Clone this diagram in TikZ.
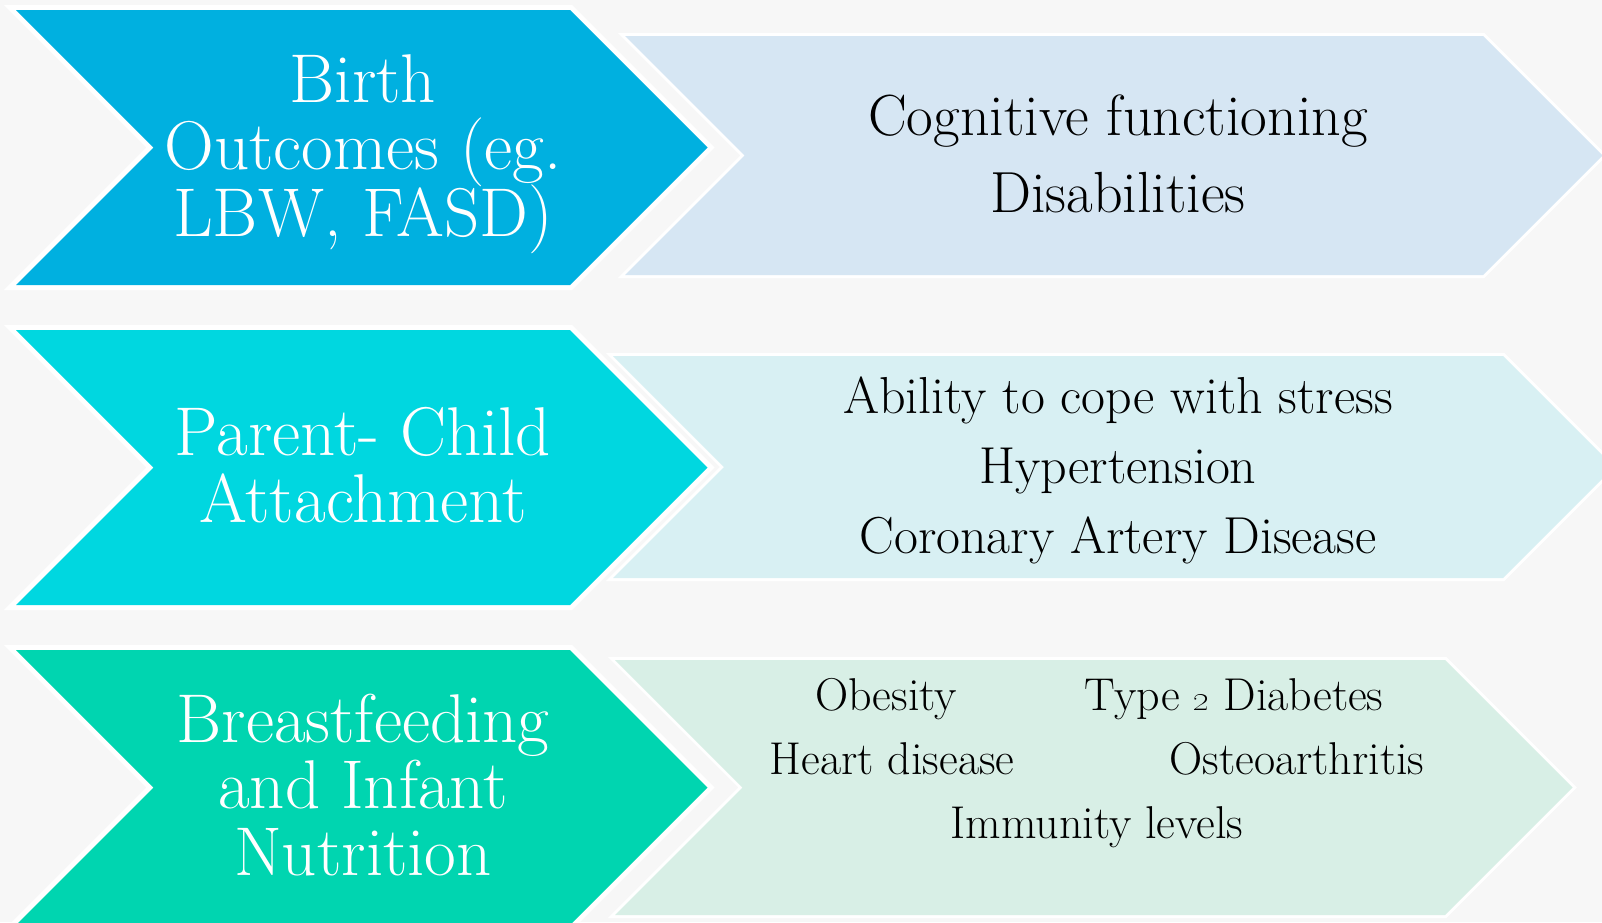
\documentclass[tikz,border=0pt]{standalone}
\usepackage{xcolor}
\usepackage{tikz}
\usetikzlibrary{positioning,calc}

\definecolor{bgpaper}{RGB}{247,247,247}
\definecolor{birth_dark}{RGB}{0,176,224}
\definecolor{attach_dark}{RGB}{0,215,224}
\definecolor{feed_dark}{RGB}{0,213,176}
\definecolor{birth_light}{RGB}{214,230,243}
\definecolor{attach_light}{RGB}{216,240,243}
\definecolor{feed_light}{RGB}{216,239,230}

\tikzset{
    cause/.style={preaction={draw=white, line width=10pt, line join=miter}, fill=#1},
    effect/.style={preaction={draw=white, line width=6pt, line join=miter}, fill=#1},
    causetext/.style={text=white, anchor=base, inner sep=0pt, font=\fontsize{69}{69}\selectfont},
    effecttext/.style={text=black, anchor=base, inner sep=0pt, font=\fontsize{#1}{#1}\selectfont},
}

\begin{document}
\begin{tikzpicture}[x=1pt, y=-1pt]
    %Background
    \fill[bgpaper] (0,0) rectangle (1602,922);
    \useasboundingbox (0,0) rectangle (1602,922);

    %Chevrons
    \path[cause=birth_dark]   (16,10)  -- (570,10)  -- (707.5,147.5) -- (570,285) -- (16,285) -- (153.5,147.5) -- cycle;
    \path[effect=birth_light] (625,36) -- (1483,36) -- (1602.5,155.5) -- (1483,275) -- (625,275) -- (744.5,155.5) -- cycle;

    \path[cause=attach_dark]   (16,330)  -- (570,330)  -- (707.5,467.5) -- (570,605) -- (16,605) -- (153.5,467.5) -- cycle;
    \path[effect=attach_light] (613,356) -- (1503,356) -- (1614,467) -- (1503,578) -- (613,578) -- (724,467) -- cycle;

    \path[cause=feed_dark]   (16,650)  -- (570,650)  -- (707.5,787.5) -- (570,925) -- (16,925) -- (153.5,787.5) -- cycle;
    \path[effect=feed_light] (615,660) -- (1445,660) -- (1572.5,787.5) -- (1445,915) -- (615,915) -- (742.5,787.5) -- cycle;

    %Causes
    \node (birth_line1)  [causetext] at (363,102) {Birth};
    \node (birth_line2)  [causetext] at (363,169) {Outcomes (eg.};
    \node (birth_line3)  [causetext] at (363,236) {LBW, FASD)};

    \node (attach_line1) [causetext] at (363,455) {Parent- Child};
    \node (attach_line2) [causetext] at (363,522) {Attachment};

    \node (feed_line1)   [causetext] at (363,742) {Breastfeeding};
    \node (feed_line2)   [causetext] at (363,808) {and Infant};
    \node (feed_line3)   [causetext] at (363,875) {Nutrition};

    %Effects
    \node (cognitive)    [effecttext=58] at (1118,135) {Cognitive functioning};
    \node (disabilities) [effecttext=58] at (1118,212) {Disabilities};

    \node (stress)       [effecttext=52] at (1118,413) {Ability to cope with stress};
    \node (hypertension) [effecttext=52] at (1118,483) {Hypertension};
    \node (coronary)     [effecttext=52] at (1118,553) {Coronary Artery Disease};

    \node (obesity)      [effecttext=46] at (886,710)  {Obesity};
    \node (diabetes)     [effecttext=46] at (1234,710) {Type \oldstylenums{2} Diabetes};
    \node (heart)        [effecttext=46] at (892,774)  {Heart disease};
    \node (osteo)        [effecttext=46] at (1297,774) {Osteoarthritis};
    \node (immunity)     [effecttext=46] at (1097,838) {Immunity levels};
\end{tikzpicture}
\end{document}
